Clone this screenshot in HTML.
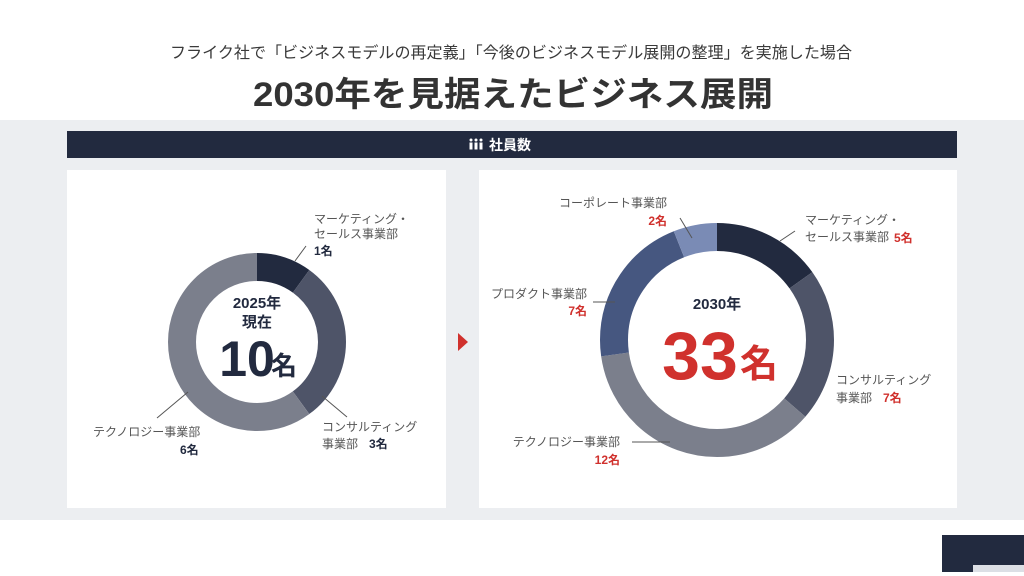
<!DOCTYPE html>
<html><head><meta charset="utf-8"><style>
html,body{margin:0;padding:0;background:#fff;}
svg{display:block;font-family:"Liberation Sans","Noto Sans CJK JP",sans-serif;}
</style></head><body>
<svg width="1024" height="576" viewBox="0 0 1024 576" xmlns="http://www.w3.org/2000/svg">
<rect x="0" y="0" width="1024" height="576" fill="#fff"/>
<text x="511" y="58" font-size="16" fill="#3a3a3a" text-anchor="middle" textLength="682" lengthAdjust="spacingAndGlyphs">フライク社で「ビジネスモデルの再定義」「今後のビジネスモデル展開の整理」を実施した場合</text>
<text x="513" y="106" font-size="34" font-weight="bold" fill="#333" text-anchor="middle" textLength="520" lengthAdjust="spacingAndGlyphs">2030年を見据えたビジネス展開</text>
<rect x="0" y="120" width="1024" height="400" fill="#eceef1"/>
<rect x="67" y="131" width="890" height="27" fill="#222a3f"/>
<g fill="#fff">
<circle cx="471" cy="140" r="1.5"/><circle cx="476" cy="140" r="1.5"/><circle cx="481" cy="140" r="1.5"/>
<rect x="469.5" y="142.5" width="3" height="7"/><rect x="474.5" y="142.5" width="3" height="7"/><rect x="479.5" y="142.5" width="3" height="7"/>
</g>
<text x="489" y="150" font-size="14" font-weight="bold" fill="#fff">社員数</text>
<rect x="67" y="170" width="379" height="338" fill="#fff"/>
<rect x="479" y="170" width="478" height="338" fill="#fff"/>
<polygon points="458,333 468,342 458,351" fill="#d0312d"/>
<g transform="rotate(-90 257 342)" fill="none" stroke-width="28">
<circle cx="257" cy="342" r="75" stroke="#222a3f" stroke-dasharray="47.12 500" stroke-dashoffset="0"/>
<circle cx="257" cy="342" r="75" stroke="#4e5468" stroke-dasharray="141.37 500" stroke-dashoffset="-47.12"/>
<circle cx="257" cy="342" r="75" stroke="#7b7f8c" stroke-dasharray="282.74 500" stroke-dashoffset="-188.5"/>
</g>
<text x="257" y="308" font-size="15" font-weight="bold" fill="#222a3f" text-anchor="middle">2025年</text>
<text x="257" y="327" font-size="15" font-weight="bold" fill="#222a3f" text-anchor="middle">現在</text>
<text x="247" y="376" font-size="50" font-weight="bold" fill="#222a3f" text-anchor="middle">10</text>
<text x="284" y="375" font-size="26" font-weight="bold" fill="#222a3f" text-anchor="middle">名</text>
<g stroke="#555" stroke-width="1">
<line x1="306" y1="246" x2="295" y2="261"/>
<line x1="322" y1="396" x2="347" y2="417"/>
<line x1="157" y1="418" x2="188" y2="392"/>
</g>
<g font-size="12" fill="#555">
<text x="314" y="223">マーケティング・</text>
<text x="314" y="238">セールス事業部</text>
<text x="322" y="431">コンサルティング</text>
<text x="322" y="448">事業部</text>
<text x="93" y="436">テクノロジー事業部</text>
</g>
<g font-size="12" font-weight="bold" fill="#222a3f">
<text x="314" y="255">1名</text>
<text x="369" y="448">3名</text>
<text x="180" y="454">6名</text>
</g>
<g transform="rotate(-90 717 340)" fill="none" stroke-width="28">
<circle cx="717" cy="340" r="103" stroke="#222a3f" stroke-dasharray="98.06 700" stroke-dashoffset="0"/>
<circle cx="717" cy="340" r="103" stroke="#4e5468" stroke-dasharray="137.28 700" stroke-dashoffset="-98.06"/>
<circle cx="717" cy="340" r="103" stroke="#7b7f8c" stroke-dasharray="235.34 700" stroke-dashoffset="-235.34"/>
<circle cx="717" cy="340" r="103" stroke="#465780" stroke-dasharray="137.28 700" stroke-dashoffset="-470.68"/>
<circle cx="717" cy="340" r="103" stroke="#7a8bb5" stroke-dasharray="39.22 700" stroke-dashoffset="-607.96"/>
</g>
<text x="717" y="309" font-size="15" font-weight="bold" fill="#222a3f" text-anchor="middle">2030年</text>
<text x="700" y="379" font-size="68" font-weight="bold" fill="#d0312d" text-anchor="middle">33</text>
<text x="759" y="377" font-size="38" font-weight="bold" fill="#d0312d" text-anchor="middle">名</text>
<g stroke="#555" stroke-width="1">
<line x1="680" y1="218" x2="692" y2="238"/>
<line x1="780" y1="241" x2="795" y2="231"/>
<line x1="593" y1="302" x2="615" y2="302"/>
<line x1="632" y1="442" x2="670" y2="442"/>
</g>
<g font-size="12" fill="#555">
<text x="667" y="207" text-anchor="end">コーポレート事業部</text>
<text x="805" y="224">マーケティング・</text>
<text x="805" y="241">セールス事業部</text>
<text x="587" y="298" text-anchor="end">プロダクト事業部</text>
<text x="836" y="384">コンサルティング</text>
<text x="836" y="402">事業部</text>
<text x="620" y="446" text-anchor="end">テクノロジー事業部</text>
</g>
<g font-size="12" font-weight="bold" fill="#d0312d">
<text x="667" y="225" text-anchor="end">2名</text>
<text x="894" y="242">5名</text>
<text x="587" y="315" text-anchor="end">7名</text>
<text x="883" y="402">7名</text>
<text x="620" y="464" text-anchor="end">12名</text>
</g>
<rect x="942" y="535" width="82" height="37" fill="#222a3f"/>
<rect x="973" y="565" width="51" height="7" fill="#dcdfe5"/>
</svg>
</body></html>
